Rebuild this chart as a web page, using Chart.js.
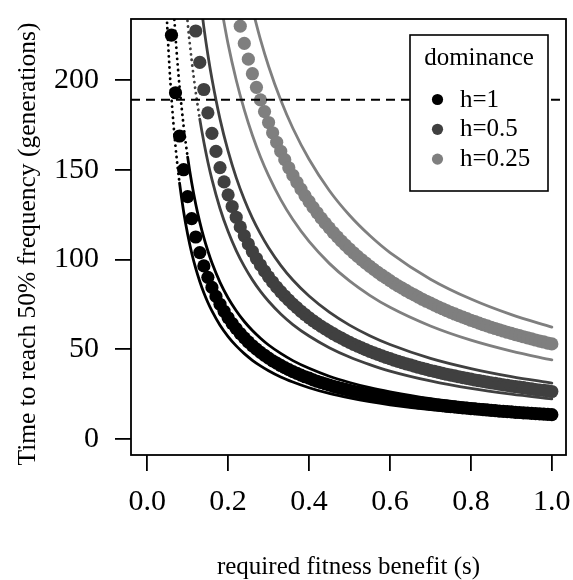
<!DOCTYPE html>
<html><head><meta charset="utf-8">
<style>html,body{margin:0;padding:0;background:#fff;}</style>
<script src="https://cdn.jsdelivr.net/npm/chart.js@4.4.1/dist/chart.umd.min.js"></script>
</head><body>
<canvas id="c" width="573" height="580"></canvas>
<script>
// ---------- data ----------
const sVals = [0.06,0.07,0.08,0.09,0.10,0.11,0.12,0.13,0.14,0.15,0.16,0.17,0.18,0.19,0.20,0.21,0.22,0.23,0.24,0.25,0.26,0.27,0.28,0.29,0.30,0.31,0.32,0.33,0.34,0.35,0.36,0.37,0.38,0.39,0.40,0.41,0.42,0.43,0.44,0.45,0.46,0.47,0.48,0.49,0.50,0.51,0.52,0.53,0.54,0.55,0.56,0.57,0.58,0.59,0.60,0.61,0.62,0.63,0.64,0.65,0.66,0.67,0.68,0.69,0.70,0.71,0.72,0.73,0.74,0.75,0.76,0.77,0.78,0.79,0.80,0.81,0.82,0.83,0.84,0.85,0.86,0.87,0.88,0.89,0.90,0.91,0.92,0.93,0.94,0.95,0.96,0.97,0.98,0.99,1.00];
const timeH1 = [225.0,192.9,168.8,150.0,135.0,122.7,112.5,103.8,96.4,90.0,84.4,79.4,75.0,71.1,67.5,64.3,61.4,58.7,56.3,54.0,51.9,50.0,48.2,46.6,45.0,43.5,42.2,40.9,39.7,38.6,37.5,36.5,35.5,34.6,33.8,32.9,32.1,31.4,30.7,30.0,29.3,28.7,28.1,27.6,27.0,26.5,26.0,25.5,25.0,24.5,24.1,23.7,23.3,22.9,22.5,22.1,21.8,21.4,21.1,20.8,20.5,20.1,19.9,19.6,19.3,19.0,18.8,18.5,18.2,18.0,17.8,17.5,17.3,17.1,16.9,16.7,16.5,16.3,16.1,15.9,15.7,15.5,15.3,15.2,15.0,14.8,14.7,14.5,14.4,14.2,14.1,13.9,13.8,13.6,13.5];
const timeH05 = [null,null,null,null,null,null,227.3,209.8,194.7,181.7,170.3,160.2,151.2,143.2,136.0,129.5,123.5,118.1,113.2,108.6,104.4,100.5,96.9,93.5,90.3,87.4,84.6,82.0,79.6,77.3,75.1,73.1,71.1,69.3,67.5,65.8,64.2,62.7,61.3,59.9,58.6,57.3,56.1,54.9,53.8,52.7,51.7,50.7,49.7,48.8,47.9,47.1,46.2,45.4,44.7,43.9,43.2,42.5,41.8,41.2,40.5,39.9,39.3,38.7,38.1,37.6,37.1,36.5,36.0,35.5,35.1,34.6,34.1,33.7,33.3,32.8,32.4,32.0,31.6,31.2,30.9,30.5,30.1,29.8,29.4,29.1,28.8,28.5,28.1,27.8,27.5,27.2,27.0,26.7,26.4];
const timeH025 = [null,null,null,null,null,null,null,null,null,null,null,null,null,null,null,null,null,230.0,220.4,211.6,203.5,195.9,188.9,182.4,176.3,170.6,165.3,160.3,155.6,151.1,146.9,143.0,139.2,135.6,132.3,129.0,126.0,123.0,120.2,117.6,115.0,112.6,110.2,108.0,105.8,103.7,101.7,99.8,98.0,96.2,94.5,92.8,91.2,89.7,88.2,86.7,85.3,84.0,82.7,81.4,80.2,79.0,77.8,76.7,75.6,74.5,73.5,72.5,71.5,70.5,69.6,68.7,67.8,67.0,66.1,65.3,64.5,63.7,63.0,62.2,61.5,60.8,60.1,59.4,58.8,58.1,57.5,56.9,56.3,55.7,55.1,54.5,54.0,53.4,52.9];

// band lines (lower / upper) on their own s grid
const lineS  = [0.04,0.045,0.05,0.055,0.06,0.065,0.07,0.075,0.08,0.09,0.10,0.11,0.12,0.13,0.14,0.15,0.16,0.18,0.20,0.22,0.24,0.26,0.28,0.30,0.33,0.36,0.40,0.45,0.50,0.55,0.60,0.70,0.80,0.90,1.00];
const loH1   = [285.0,253.3,228.0,207.3,190.0,175.4,162.9,152.0,142.5,126.7,114.0,103.6,95.0,87.7,81.4,76.0,71.3,63.3,57.0,51.8,47.5,43.8,40.7,38.0,34.5,31.7,28.5,25.3,22.8,20.7,19.0,16.3,14.3,12.7,11.4];
const hiH1   = [null,null,null,null,261.7,241.5,224.3,209.3,196.3,174.4,157.0,142.7,130.8,120.8,112.1,104.7,98.1,87.2,78.5,71.4,65.4,60.4,56.1,52.3,47.6,43.6,39.3,34.9,31.4,28.5,26.2,22.4,19.6,17.4,15.7];
const loH05  = [null,null,null,null,null,null,null,null,null,257.9,232.0,210.8,193.2,178.2,165.4,154.3,144.6,128.4,115.5,104.9,96.1,88.6,82.2,76.7,69.6,63.7,57.3,50.8,45.6,41.4,37.8,32.3,28.1,24.9,22.3];
const hiH05  = [null,null,null,null,null,null,null,null,null,null,null,null,null,247.3,229.5,214.1,200.7,178.2,160.3,145.6,133.4,123.0,114.2,106.5,96.7,88.5,79.6,70.6,63.4,57.5,52.6,44.9,39.2,34.7,31.1];
const loH025 = [null,null,null,null,null,null,null,null,null,null,null,null,null,null,null,null,null,244.4,220.0,200.0,183.3,169.2,157.1,146.7,133.3,122.2,110.0,97.8,88.0,80.0,73.3,62.9,55.0,48.9,44.0];
const hiH025 = [null,null,null,null,null,null,null,null,null,null,null,null,null,null,null,null,null,null,null,null,null,239.6,222.5,207.7,188.8,173.1,155.8,138.4,124.6,113.3,103.8,89.0,77.9,69.2,62.3];

const refTime = 189;
const xTicks = [0, 0.2, 0.4, 0.6, 0.8, 1.0];
const xTickLabels = ['0.0','0.2','0.4','0.6','0.8','1.0'];
const yTicks = [0, 50, 100, 150, 200];
const yTickLabels = ['0','50','100','150','200'];
const seriesLabels = ['h=1','h=0.5','h=0.25'];
const legendTitle = 'dominance';
const xTitle = 'required fitness benefit (s)';
const yTitle = 'Time to reach 50% frequency (generations)';

// ---------- styles ----------
const colors = ['#000000','#404040','#7f7f7f'];
const FONT = "'Liberation Serif','Times New Roman',serif";

function pts(xs, ys){ const out=[]; xs.forEach((x,i)=>{ if(ys[i]!=null) out.push({x:x,y:ys[i]}); }); return out; }

function lineDs(data, color, dotAbove){
  return {
    data: pts(lineS, data), showLine: true, pointRadius: 0, borderColor: color, borderWidth: 2.8,
    cubicInterpolationMode: 'monotone', borderCapStyle: 'round', order: 0,
    segment: { borderDash: ctx => (dotAbove!=null && ctx.p0.parsed.y > dotAbove) ? [0.1, 5.5] : undefined }
  };
}
function pointDs(data, color){
  return { data: pts(sVals, data), showLine:false, pointRadius: 6.6, pointHoverRadius:6.6,
    pointBackgroundColor: color, pointBorderWidth: 0, borderColor: color, order: 1 };
}

const datasets = [
  lineDs(loH1, colors[0], 150), lineDs(hiH1, colors[0], 165),
  lineDs(loH05, colors[1], 185), lineDs(hiH05, colors[1], null),
  lineDs(loH025, colors[2], null), lineDs(hiH025, colors[2], null),
  pointDs(timeH1, colors[0]), pointDs(timeH05, colors[1]), pointDs(timeH025, colors[2])
];

const decor = {
  id: 'decor',
  afterDatasetsDraw(chart){
    const ctx = chart.ctx, a = chart.chartArea, ys = chart.scales.y;
    ctx.save();
    const yy = ys.getPixelForValue(refTime);
    ctx.beginPath(); ctx.rect(a.left, a.top, a.right-a.left, a.bottom-a.top); ctx.clip();
    ctx.strokeStyle = '#000'; ctx.lineWidth = 2; ctx.setLineDash([9,6]);
    ctx.beginPath(); ctx.moveTo(a.left, yy); ctx.lineTo(a.right, yy); ctx.stroke();
    ctx.restore();
    // legend
    ctx.save();
    const lx = 410, ly = 35, lw = 138, lh = 156;
    ctx.fillStyle = '#fff'; ctx.fillRect(lx, ly, lw, lh);
    ctx.strokeStyle = '#000'; ctx.lineWidth = 1.6; ctx.strokeRect(lx, ly, lw, lh);
    ctx.fillStyle = '#000'; ctx.font = '25px ' + FONT; ctx.textBaseline = 'alphabetic';
    ctx.textAlign = 'center'; ctx.fillText(legendTitle, lx + lw/2, 65);
    ctx.textAlign = 'left';
    seriesLabels.forEach((lab, i) => {
      const cy = 99.5 + i*29.8;
      ctx.fillStyle = colors[i]; ctx.beginPath(); ctx.arc(437.5, cy, 5.6, 0, Math.PI*2); ctx.fill();
      ctx.fillStyle = '#000'; ctx.fillText(lab, 460, cy + 7);
    });
    ctx.restore();
    // y axis title
    ctx.save();
    ctx.translate(28, 244); ctx.rotate(-Math.PI/2);
    ctx.fillStyle = '#000'; ctx.font = '25.5px ' + FONT; ctx.textAlign = 'center'; ctx.textBaseline = 'middle';
    ctx.fillText(yTitle, 0, 0);
    ctx.restore();
    // frame
    ctx.save(); ctx.strokeStyle = '#000'; ctx.lineWidth = 1.8;
    ctx.strokeRect(a.left, a.top, a.right-a.left, a.bottom-a.top); ctx.restore();
  }
};

new Chart(document.getElementById('c'), {
  type: 'scatter',
  data: { datasets },
  options: {
    responsive: false, animation: false, devicePixelRatio: 1,
    layout: { padding: { top: 19, right: 7, left: 0, bottom: 0 } },
    plugins: { legend: { display: false }, tooltip: { enabled: false } },
    events: [],
    scales: {
      x: {
        type: 'linear', min: -0.04, max: 1.035,
        afterBuildTicks: ax => { ax.ticks = xTicks.map(v => ({ value: v })); },
        afterFit: s => { s.height = 125; s.paddingLeft = 0; s.paddingRight = 0; },
        ticks: { autoSkip: false, maxRotation: 0, padding: 13, color: '#000',
          font: { family: FONT, size: 30 }, callback: (v, i) => xTickLabels[i] },
        grid: { drawOnChartArea: false, drawTicks: true, tickLength: 16, color: '#000', lineWidth: 1.8 },
        border: { display: false },
        title: { display: true, text: xTitle, color: '#000', font: { family: FONT, size: 25, lineHeight: 1 }, padding: { top: 0, bottom: 0 } }
      },
      y: {
        type: 'linear', min: -9, max: 234,
        afterBuildTicks: ax => { ax.ticks = yTicks.map(v => ({ value: v })); },
        afterFit: s => { s.width = 131; s.paddingTop = 0; s.paddingBottom = 0; },
        ticks: { autoSkip: false, padding: 16, color: '#000',
          font: { family: FONT, size: 30 }, callback: (v, i) => yTickLabels[i] },
        grid: { drawOnChartArea: false, drawTicks: true, tickLength: 16, color: '#000', lineWidth: 1.8 },
        border: { display: false },
        title: { display: false }
      }
    }
  },
  plugins: [decor]
});
</script>
</body></html>
